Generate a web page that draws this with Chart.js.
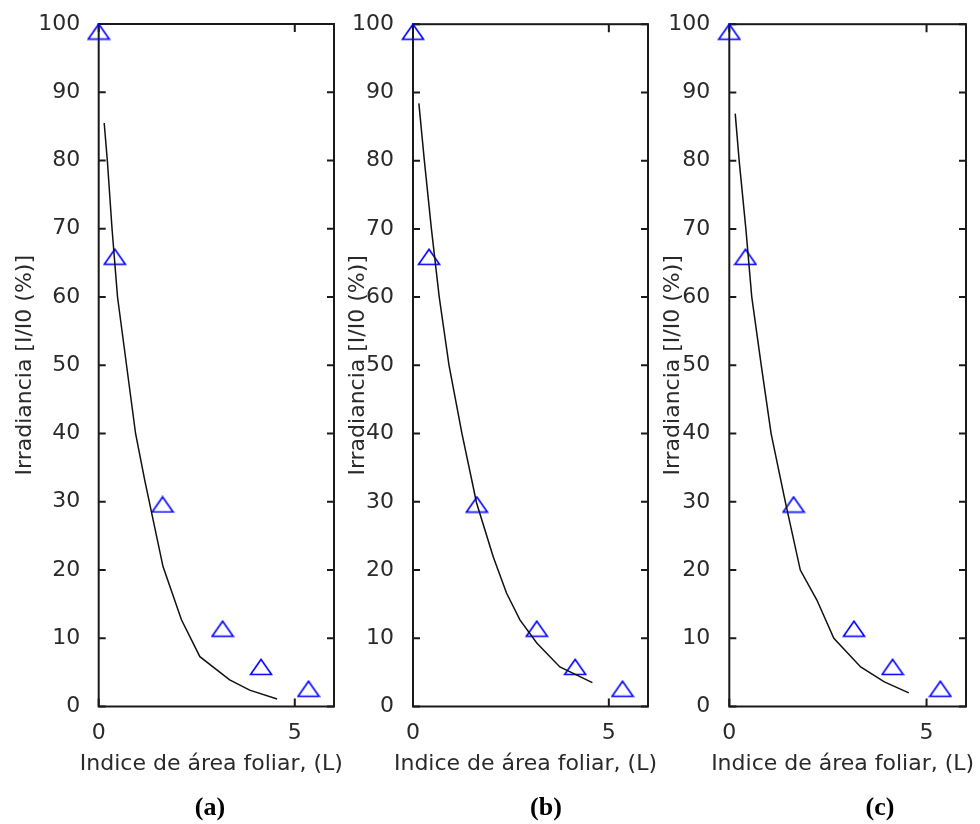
<!DOCTYPE html>
<html>
<head>
<meta charset="utf-8">
<script src="https://cdn.jsdelivr.net/npm/chart.js@4.4.1/dist/chart.umd.min.js"></script>
<style>
  body { margin: 0; background: #fff; }
  #wrap { position: relative; width: 980px; height: 824px; overflow: hidden; background: #fff; }
  canvas { position: absolute; top: 0; }
  .cap { position: absolute; top: 794px; width: 100px; text-align: center;
         font: bold 26px "Liberation Serif", "Times New Roman", serif; line-height: 1; color: #000; }
</style>
</head>
<body>
<div id="wrap">
  <canvas id="chartA" width="345" height="824" style="left:0px"></canvas>
  <canvas id="chartB" width="330" height="824" style="left:330px"></canvas>
  <canvas id="chartC" width="335" height="824" style="left:645px"></canvas>
  <div class="cap" style="left:160px">(a)</div>
  <div class="cap" style="left:496px">(b)</div>
  <div class="cap" style="left:830px">(c)</div>
</div>
<script>
// measured points (same in all three panels)
var leafIndex = [0, 0.41, 1.63, 3.16, 4.14, 5.35];
var irradiance = [98.9, 65.9, 29.6, 11.4, 5.8, 2.6];

// fitted curves
var fitAx = [0.14, 0.22, 0.34, 0.48, 0.71, 0.94, 1.18, 1.64, 2.11, 2.58, 3.34, 3.85, 4.55];
var fitAy = [85.5, 80, 70, 60, 50, 40, 33, 20.5, 12.7, 7.3, 3.9, 2.4, 1.1];

var fitBx = [0.15, 0.29, 0.47, 0.67, 0.92, 1.25, 1.50, 1.62, 2.05, 2.39, 2.73, 3.16, 3.75, 4.58];
var fitBy = [88.4, 80, 70, 60, 50, 40, 33.2, 29.9, 21.9, 16.6, 12.7, 9.3, 5.8, 3.5];

var fitCx = [0.15, 0.25, 0.42, 0.57, 0.81, 1.06, 1.42, 1.80, 2.22, 2.65, 3.33, 3.93, 4.55];
var fitCy = [86.9, 80, 70, 60, 50, 40, 30, 20, 15.6, 10, 5.8, 3.6, 2.0];

var xTicks = [0, 5];
var yTicks = [0, 10, 20, 30, 40, 50, 60, 70, 80, 90, 100];
var xLabel = 'Indice de área foliar, (L)';
var yLabel = 'Irradiancia [I/I0 (%)]';

var textFont = { family: 'DejaVu Sans', size: 22 };
var textColor = '#2a2a2a';

function toPoints(xs, ys) {
  var pts = [];
  for (var i = 0; i < xs.length; i++) pts.push({ x: xs[i], y: ys[i] });
  return pts;
}

// open triangle marker like matlab '^'
var tri = document.createElement('canvas');
tri.width = 24; tri.height = 18;
(function () {
  var c = tri.getContext('2d');
  c.strokeStyle = '#0000ff';
  c.lineWidth = 1.6;
  c.beginPath();
  c.moveTo(12, 1.5);
  c.lineTo(22.5, 16.5);
  c.lineTo(1.5, 16.5);
  c.closePath();
  c.stroke();
})();

// axes box with inward ticks, plus the x label (wider than the plot, so not clipped to it)
var boxPlugin = {
  id: 'box',
  beforeDatasetsDraw: function (chart) {
    var ctx = chart.ctx, a = chart.chartArea;
    var sx = chart.scales.x, sy = chart.scales.y;
    ctx.save();
    ctx.strokeStyle = '#1a1a1a';
    ctx.lineWidth = 2;
    ctx.strokeRect(a.left, a.top, a.right - a.left, a.bottom - a.top);
    ctx.beginPath();
    yTicks.forEach(function (v) {
      var p = sy.getPixelForValue(v);
      ctx.moveTo(a.left, p); ctx.lineTo(a.left + 7, p);
      ctx.moveTo(a.right, p); ctx.lineTo(a.right - 7, p);
    });
    xTicks.forEach(function (v) {
      var p = sx.getPixelForValue(v);
      ctx.moveTo(p, a.bottom); ctx.lineTo(p, a.bottom - 8);
      ctx.moveTo(p, a.top); ctx.lineTo(p, a.top + 8);
    });
    ctx.stroke();

    ctx.fillStyle = textColor;
    ctx.font = textFont.size + 'px "' + textFont.family + '"';
    ctx.textAlign = 'center';
    ctx.textBaseline = 'middle';
    ctx.fillText(xLabel, (a.left + a.right) / 2 - 5, 764);
    ctx.restore();
  }
};

function makePanel(id, fx, fy, plotLeft, padRight, yTitlePad, yTickPad) {
  return new Chart(document.getElementById(id), {
    type: 'scatter',
    data: {
      datasets: [
        {
          label: 'fit',
          data: toPoints(fx, fy),
          showLine: true,
          borderColor: '#111111',
          borderWidth: 1.5,
          pointRadius: 0,
          tension: 0
        },
        {
          label: 'medido',
          data: toPoints(leafIndex, irradiance),
          showLine: false,
          pointStyle: tri,
          pointRadius: 10
        }
      ]
    },
    options: {
      responsive: false,
      animation: false,
      clip: false,
      layout: { padding: { top: 24, right: padRight, left: 0, bottom: 0 } },
      plugins: { legend: { display: false }, tooltip: { enabled: false } },
      scales: {
        x: {
          type: 'linear', min: 0, max: 6,
          grid: { display: false },
          border: { display: false },
          afterBuildTicks: function (s) { s.ticks = xTicks.map(function (v) { return { value: v }; }); },
          afterFit: function (s) { s.height = 117.5; },
          ticks: { font: textFont, color: textColor, padding: 6, maxRotation: 0 }
        },
        y: {
          type: 'linear', min: 0, max: 100,
          grid: { display: false },
          border: { display: false },
          afterBuildTicks: function (s) { s.ticks = yTicks.map(function (v) { return { value: v }; }); },
          afterFit: function (s) { s.width = plotLeft; },
          ticks: { font: textFont, color: textColor, padding: yTickPad },
          title: { display: true, text: yLabel, font: textFont, color: textColor, padding: { top: yTitlePad, bottom: 0 } }
        }
      }
    },
    plugins: [boxPlugin]
  });
}

makePanel('chartA', fitAx, fitAy, 98.7, 10, 11.8, 10.5);
makePanel('chartB', fitBx, fitBy, 83, 12, 15.3, 11);
makePanel('chartC', fitCx, fitCy, 84.3, 14, 15.3, 11);
</script>
</body>
</html>
